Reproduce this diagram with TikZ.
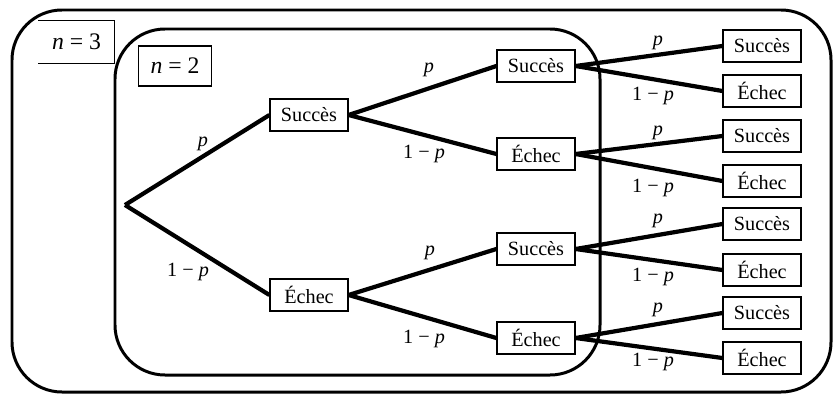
\documentclass[tikz,border=0pt]{standalone}
\usepackage{fontspec}
\setmainfont{Liberation Serif}
\usetikzlibrary{positioning}

\begin{document}
\begin{tikzpicture}[
  font=\fontsize{11.5}{14}\selectfont,
  line width=1.7pt,
  etat/.style={draw,line width=0.7pt,minimum width=1.56cm,minimum height=0.64cm,inner sep=0pt},
  branche/.style={line width=2.4pt},
  rang/.style={font=\fontsize{13.5}{16}\selectfont,minimum width=1.47cm,minimum height=0.8cm,inner sep=0pt},
]
\useasboundingbox (0,0) rectangle (16.66,7.9);

% cadres n = 3 et n = 2
\draw[rounded corners=1cm] (0.24,0.06) rectangle (16.62,7.7);
\draw[rounded corners=1cm] (2.3,0.4) rectangle (12.0,7.32);
\node[rang] (n3) at (1.53,7.06) {\textit{n} = 3};
\draw[line width=0.7pt] (n3.north west) -- (n3.north east) -- (n3.south east) -- (n3.south west);
\node[rang,draw,line width=0.7pt] (n2) at (3.5,6.58) {\textit{n} = 2};

% arbre
\coordinate (r) at (2.5,3.8);
\node[etat] (s) at (6.18,5.6) {Succès};
\node[etat] (e) at (6.18,2.0) {Échec};
\node[etat] (ss) at (10.72,6.58) {Succès};
\node[etat] (se) at (10.72,4.82) {Échec};
\node[etat] (es) at (10.72,2.92) {Succès};
\node[etat] (ee) at (10.72,1.14) {Échec};
\foreach \n/\y/\t in {sss/6.98/Succès, sse/6.08/Échec, ses/5.18/Succès, see/4.28/Échec,
  ess/3.42/Succès, ese/2.5/Échec, ees/1.64/Succès, eee/0.74/Échec} {
  \node[etat] (\n) at (15.24,\y) {\t};
}

\draw[branche] (r) -- (s.west);
\draw[branche] (r) -- (e.west);
\foreach \a in {s,e,ss,se,es,ee} {
  \draw[branche] (\a.east) -- (\a s.west);
  \draw[branche] (\a.east) -- (\a e.west);
}

% probabilites
\foreach \n/\x/\y in {ps/4.06/5.02, pss/8.58/6.5, pes/8.6/2.84,
  psss/13.16/7.04, pses/13.16/5.24, pess/13.16/3.48, pees/13.16/1.7} {
  \node (\n) at (\x,\y) {\textit{p}};
}
\foreach \n/\x/\y in {pe/3.76/2.46, pse/8.48/4.82, pee/8.48/1.12,
  psse/13.06/5.98, psee/13.06/4.14, pese/13.06/2.36, peee/13.06/0.66} {
  \node (\n) at (\x,\y) {1 − \textit{p}};
}

\end{tikzpicture}
\end{document}
